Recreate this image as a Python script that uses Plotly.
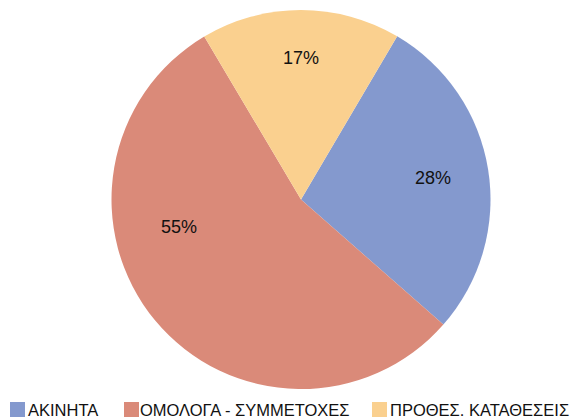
import math
import plotly.graph_objects as go

labels = ["ΑΚΙΝΗΤΑ", "ΟΜΟΛΟΓΑ - ΣΥΜΜΕΤΟΧΕΣ", "ΠΡΟΘΕΣ. ΚΑΤΑΘΕΣΕΙΣ"]
values = [28, 55, 17]
colors = ["#8499CE", "#DA8A79", "#FAD08F"]

# label placement style (fraction of radius, angular shift in degrees)
label_r = [0.705, 0.66, 0.745]
label_shift = [0, 27, 0]

# legend layout (pixel left edge of each swatch, gap to its text)
legend_x = [10, 124, 372]
legend_gap = [1, -1, 1]

W, H = 573, 419
ROT = 30.5
cx_px, cy_px, r_px = 301, 199.5, 189.5
dom_x = [(cx_px - r_px) / W, (cx_px + r_px) / W]
dom_y = [1 - (cy_px + r_px) / H, 1 - (cy_px - r_px) / H]

FONT = "Liberation Sans, Arial, sans-serif"

fig = go.Figure(go.Pie(
    labels=labels,
    values=values,
    sort=False,
    direction="clockwise",
    rotation=ROT,
    domain=dict(x=dom_x, y=dom_y),
    marker=dict(colors=colors, line=dict(width=0)),
    textinfo="none",
    hoverinfo="label+percent",
    showlegend=False,
))

# percent labels computed from the data
total = sum(values)
start = ROT
annotations = []
for v, rf, sh in zip(values, label_r, label_shift):
    span = 360 * v / total
    mid = math.radians(start + span / 2 + sh)
    px = cx_px + rf * r_px * math.sin(mid)
    py = cy_px - rf * r_px * math.cos(mid)
    annotations.append(dict(
        x=px / W, y=1 - py / H, xref="paper", yref="paper",
        text=f"{round(100 * v / total)}%", showarrow=False,
        xanchor="center", yanchor="middle",
        font=dict(family=FONT, size=18, color="#111111"),
    ))
    start += span

# legend: colour swatches and names
shapes = []
SW = 15
ly_top, ly_bot = 402, 417
for name, col, lx, gp in zip(labels, colors, legend_x, legend_gap):
    shapes.append(dict(
        type="rect", xref="paper", yref="paper",
        x0=lx / W, x1=(lx + SW) / W,
        y0=1 - ly_bot / H, y1=1 - ly_top / H,
        fillcolor=col, line=dict(width=0),
    ))
    annotations.append(dict(
        x=(lx + SW + gp) / W, y=1 - 409.5 / H, xref="paper", yref="paper",
        text=name, showarrow=False, xanchor="left", yanchor="middle",
        font=dict(family=FONT, size=16.5, color="#111111"),
    ))

fig.update_layout(
    width=W, height=H,
    margin=dict(l=0, r=0, t=0, b=0),
    paper_bgcolor="white",
    plot_bgcolor="white",
    showlegend=False,
    annotations=annotations,
    shapes=shapes,
)

fig.write_html("out.html")
